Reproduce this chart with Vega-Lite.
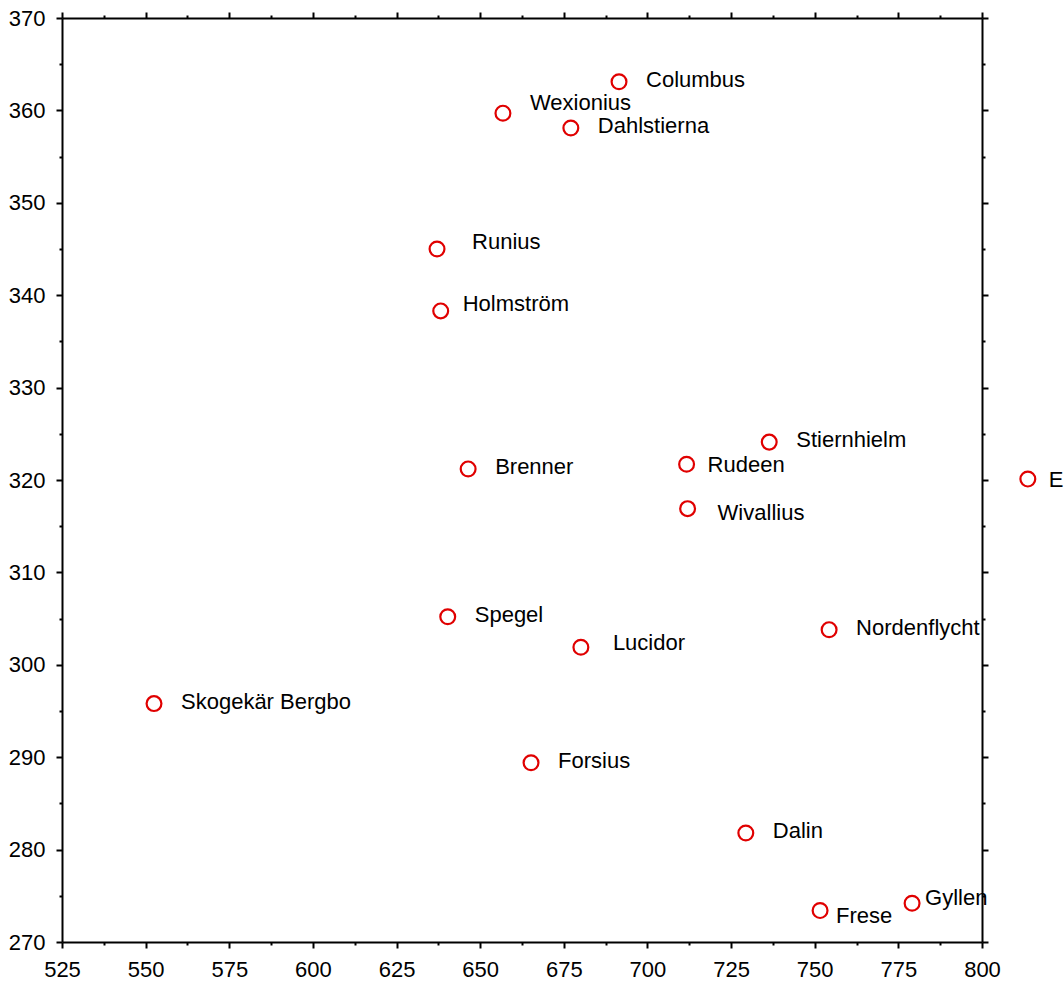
{
  "$schema": "https://vega.github.io/schema/vega-lite/v6.json",
  "width": 920,
  "height": 924,
  "autosize": {"type": "none"},
  "padding": {"left": 62, "top": 18, "right": 82, "bottom": 41},
  "background": "white",
  "config": {
    "view": {"stroke": null},
    "text": {"font": "Liberation Sans", "fontSize": 22, "align": "left", "baseline": "middle", "color": "black"},
    "axis": {
      "grid": false,
      "domainColor": "black",
      "domainWidth": 2,
      "tickColor": "black",
      "tickWidth": 2,
      "labelFont": "Liberation Sans",
      "labelFontSize": 22,
      "labelColor": "black",
      "labelPadding": 11,
      "labelFlush": false,
      "labelOverlap": false,
      "title": null
    }
  },
  "data": {
    "values": [
      {"name": "Columbus", "x": 691.5, "y": 363.1},
      {"name": "Wexionius", "x": 656.8, "y": 359.7},
      {"name": "Dahlstierna", "x": 677.1, "y": 358.1},
      {"name": "Runius", "x": 637.1, "y": 345.0},
      {"name": "Holmström", "x": 638.2, "y": 338.3},
      {"name": "Stiernhielm", "x": 736.4, "y": 324.1},
      {"name": "Brenner", "x": 646.4, "y": 321.2},
      {"name": "Rudeen", "x": 711.7, "y": 321.7},
      {"name": "E", "x": 813.7, "y": 320.1},
      {"name": "Wivallius", "x": 712.0, "y": 316.9},
      {"name": "Spegel", "x": 640.3, "y": 305.2},
      {"name": "Lucidor", "x": 680.1, "y": 301.9},
      {"name": "Nordenflycht", "x": 754.3, "y": 303.8},
      {"name": "Skogekär Bergbo", "x": 552.5, "y": 295.8},
      {"name": "Forsius", "x": 665.2, "y": 289.4},
      {"name": "Dalin", "x": 729.4, "y": 281.8},
      {"name": "Frese", "x": 751.6, "y": 273.4},
      {"name": "Gyllen", "x": 779.1, "y": 274.2}
    ]
  },
  "layer": [
    {
      "mark": {"type": "point", "shape": "circle", "filled": false, "size": 220, "strokeWidth": 2.2, "color": "#e00000", "opacity": 1},
      "encoding": {
        "x": {
          "field": "x", "type": "quantitative",
          "scale": {"domain": [525, 800], "nice": false, "zero": false},
          "axis": {
            "orient": "bottom",
            "values": [525, 537.5, 550, 562.5, 575, 587.5, 600, 612.5, 625, 637.5, 650, 662.5, 675, 687.5, 700, 712.5, 725, 737.5, 750, 762.5, 775, 787.5, 800],
            "format": "d",
            "labelExpr": "datum.value % 25 === 0 ? datum.label : ''",
            "tickSize": {"condition": {"test": "datum.value % 25 === 0", "value": 6}, "value": 3}
          }
        },
        "y": {
          "field": "y", "type": "quantitative",
          "scale": {"domain": [270, 370], "nice": false, "zero": false},
          "axis": {
            "orient": "left",
            "values": [270, 275, 280, 285, 290, 295, 300, 305, 310, 315, 320, 325, 330, 335, 340, 345, 350, 355, 360, 365, 370],
            "format": "d",
            "labelExpr": "datum.value % 10 === 0 ? datum.label : ''",
            "tickSize": {"condition": {"test": "datum.value % 10 === 0", "value": 6}, "value": 3}
          }
        }
      }
    },
    {
      "encoding": {
        "x": {
          "field": "x", "type": "quantitative",
          "scale": {"domain": [525, 800], "nice": false, "zero": false},
          "axis": {
            "orient": "top",
            "labels": false,
            "values": [525, 537.5, 550, 562.5, 575, 587.5, 600, 612.5, 625, 637.5, 650, 662.5, 675, 687.5, 700, 712.5, 725, 737.5, 750, 762.5, 775, 787.5, 800],
            "tickSize": {"condition": {"test": "datum.value % 25 === 0", "value": 6}, "value": 3}
          }
        },
        "y": {
          "field": "y", "type": "quantitative",
          "scale": {"domain": [270, 370], "nice": false, "zero": false},
          "axis": {
            "orient": "right",
            "labels": false,
            "values": [270, 275, 280, 285, 290, 295, 300, 305, 310, 315, 320, 325, 330, 335, 340, 345, 350, 355, 360, 365, 370],
            "tickSize": {"condition": {"test": "datum.value % 10 === 0", "value": 6}, "value": 3}
          }
        },
        "text": {"field": "name"}
      },
      "layer": [
        {
          "transform": [{"filter": {"field": "name", "oneOf": ["Columbus", "Dahlstierna", "Stiernhielm", "Brenner", "Spegel", "Skogekär Bergbo", "Forsius", "Dalin", "Nordenflycht"]}}],
          "mark": {"type": "text", "dx": 27, "dy": -2}
        },
        {
          "transform": [{"filter": {"field": "name", "oneOf": ["Wexionius"]}}],
          "mark": {"type": "text", "dx": 27, "dy": -10}
        },
        {
          "transform": [{"filter": {"field": "name", "oneOf": ["Runius"]}}],
          "mark": {"type": "text", "dx": 35, "dy": -7}
        },
        {
          "transform": [{"filter": {"field": "name", "oneOf": ["Holmström"]}}],
          "mark": {"type": "text", "dx": 22, "dy": -7}
        },
        {
          "transform": [{"filter": {"field": "name", "oneOf": ["Rudeen", "E"]}}],
          "mark": {"type": "text", "dx": 21, "dy": 1}
        },
        {
          "transform": [{"filter": {"field": "name", "oneOf": ["Wivallius"]}}],
          "mark": {"type": "text", "dx": 30, "dy": 4}
        },
        {
          "transform": [{"filter": {"field": "name", "oneOf": ["Lucidor"]}}],
          "mark": {"type": "text", "dx": 32, "dy": -4}
        },
        {
          "transform": [{"filter": {"field": "name", "oneOf": ["Frese"]}}],
          "mark": {"type": "text", "dx": 16, "dy": 5}
        },
        {
          "transform": [{"filter": {"field": "name", "oneOf": ["Gyllen"]}}],
          "mark": {"type": "text", "dx": 13, "dy": -5}
        }
      ]
    }
  ],
  "resolve": {"scale": {"x": "independent", "y": "independent"}}
}
